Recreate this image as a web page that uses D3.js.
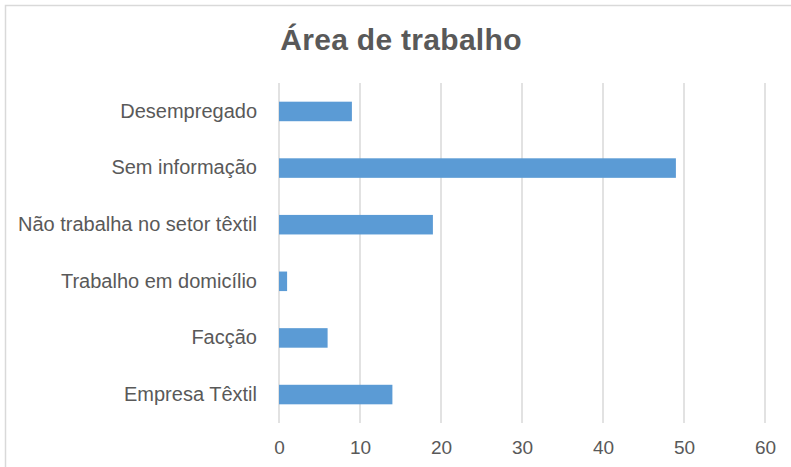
<!DOCTYPE html>
<html>
<head>
<meta charset="utf-8">
<script src="https://cdn.jsdelivr.net/npm/d3@7"></script>
<style>
  body { margin: 0; background: #fff; }
  text { font-family: "Liberation Sans", Arial, sans-serif; fill: #595959; }
</style>
</head>
<body>
<div id="chart"></div>
<script>
(function () {

    const categories = ['Desempregado', 'Sem informação', 'Não trabalha no setor têxtil',
        'Trabalho em domicílio', 'Facção', 'Empresa Têxtil']
    const values = [9, 49, 19, 1, 6, 14]
    const ticks = [0, 10, 20, 30, 40, 50, 60]

    const width = 791
    const height = 467
    const margin = { top: 83, right: 26, bottom: 44, left: 279 }

    const svg = d3.select('#chart')
        .append('svg')
        .attr('width', width)
        .attr('height', height)

    // chart frame (only top and left edges visible in the crop)
    svg.append('rect')
        .attr('x', 5.5)
        .attr('y', 5.5)
        .attr('width', width + 10)
        .attr('height', height + 10)
        .attr('fill', 'none')
        .attr('stroke', '#d9d9d9')
        .attr('stroke-width', 1.5)

    const x = d3.scaleLinear()
        .domain([0, 60])
        .range([margin.left, width - margin.right])

    const y = d3.scaleBand()
        .domain(categories)
        .range([margin.top, height - margin.bottom])
        .paddingInner(0.655)
        .paddingOuter(0.33)

    // gridlines
    svg.append('g')
        .selectAll('line')
        .data(ticks)
        .join('line')
        .attr('x1', d => x(d))
        .attr('x2', d => x(d))
        .attr('y1', margin.top)
        .attr('y2', height - margin.bottom)
        .attr('stroke', '#d9d9d9')
        .attr('stroke-width', 1.5)

    // bars
    svg.append('g')
        .selectAll('rect')
        .data(values)
        .join('rect')
        .attr('x', x(0))
        .attr('y', (d, i) => y(categories[i]))
        .attr('width', d => x(d) - x(0))
        .attr('height', y.bandwidth())
        .attr('fill', '#5b9bd5')

    // x axis labels
    const xAxis = svg.append('g')
        .attr('transform', `translate(0,${height - margin.bottom})`)
        .call(d3.axisBottom(x).tickValues(ticks).tickSize(0).tickPadding(18))
    xAxis.select('.domain').remove()
    xAxis.selectAll('text')
        .attr('font-size', '19px')
        .style('font-family', '"Liberation Sans", Arial, sans-serif')
        .attr('fill', '#595959')

    // y axis labels
    const yAxis = svg.append('g')
        .attr('transform', `translate(${margin.left},0)`)
        .call(d3.axisLeft(y).tickSize(0).tickPadding(22))
    yAxis.select('.domain').remove()
    yAxis.selectAll('text')
        .attr('font-size', '20px')
        .style('font-family', '"Liberation Sans", Arial, sans-serif')
        .attr('fill', '#595959')

    // title
    svg.append('text')
        .attr('x', 401)
        .attr('y', 50)
        .attr('text-anchor', 'middle')
        .attr('font-size', '30px')
        .attr('font-weight', 'bold')
        .attr('letter-spacing', '0.3px')
        .text('Área de trabalho')

})();
</script>
</body>
</html>
